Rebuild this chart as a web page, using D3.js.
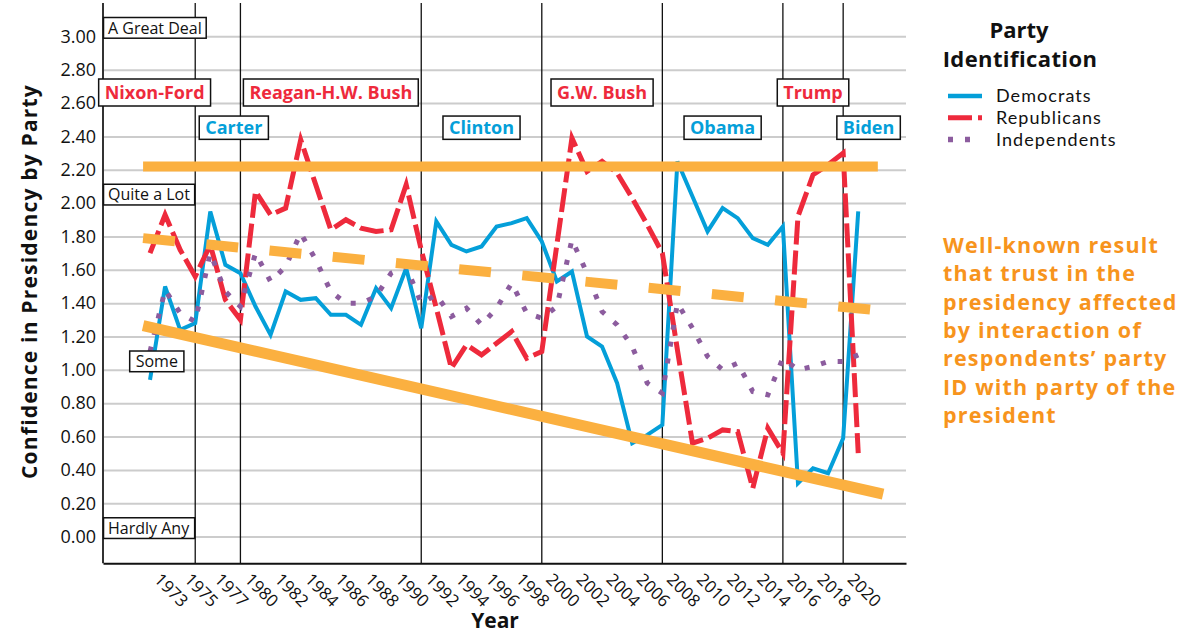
<!DOCTYPE html>
<html><head><meta charset="utf-8">
<script src="https://cdn.jsdelivr.net/npm/d3@7"></script>
<style>
body{margin:0;background:#fff}
svg{display:block}
text{font-family:"Open Sans",Lato,sans-serif}
</style>
</head><body>
<svg id="c" width="1179" height="633"></svg>
<script>
// ---------- DATA ----------
const years = [1973,1974,1975,1976,1977,1978,
  1980,1981,1982,1983,1984,1985,1986,1987,1988,1989,1990,1991,1992,1993,1994,1995,1996,1997,1998,1999,
  2000,2001,2002,2003,2004,2005,2006,2007,2008,2009,2010,2011,2012,2013,2014,2015,2016,2017,2018,2019,2020,2021];
const tickYears = [1973,1975,1977,1980,1982,1984,1986,1988,1990,1992,1994,1996,1998,2000,2002,2004,2006,2008,2010,2012,2014,2016,2018,2020];
const democrats = [0.94,1.50,1.24,1.28,1.95,1.63,1.58,1.38,1.21,1.47,1.42,1.43,1.33,1.33,1.27,1.49,1.37,1.61,
  1.25,1.89,1.75,1.71,1.74,1.86,1.88,1.91,1.77,1.53,1.59,1.20,1.14,0.92,0.56,0.61,0.67,2.25,2.04,1.83,1.97,1.91,
  1.79,1.75,1.86,0.32,0.41,0.38,0.59,1.95];
const republicans = [1.70,1.93,1.72,1.56,1.75,1.42,1.30,2.07,1.93,1.97,2.38,2.11,1.84,1.90,1.85,1.83,1.84,2.11,
  1.72,1.37,1.01,1.15,1.09,1.16,1.23,1.07,1.11,1.75,2.39,2.19,2.25,2.18,2.03,1.87,1.70,1.12,0.56,0.59,0.64,0.63,
  0.29,0.65,0.50,1.92,2.17,2.23,2.30,0.50];
const independents = [1.11,1.48,1.34,1.29,1.70,1.47,1.38,1.70,1.53,1.62,1.82,1.66,1.47,1.40,1.40,1.44,1.58,1.62,
  1.40,1.45,1.32,1.37,1.27,1.37,1.52,1.34,1.31,1.38,1.78,1.58,1.35,1.27,1.14,0.92,0.86,1.40,1.25,1.08,1.00,1.04,
  0.87,0.85,1.07,1.00,1.02,1.05,1.05,1.09];
const yTicks = [0,0.2,0.4,0.6,0.8,1.0,1.2,1.4,1.6,1.8,2.0,2.2,2.4,2.6,2.8,3.0];
const levelLabels = ["A Great Deal","Quite a Lot","Some","Hardly Any"];
const levelValues = [3,2,1,0];
const eraNames = ["Nixon-Ford","Carter","Reagan-H.W. Bush","Clinton","G.W. Bush","Obama","Trump","Biden"];
const eraParty = ["R","D","R","D","R","D","R","D"];
const eraBoundaries = [1976,1980,1992,2000,2008,2016,2020];
// annotation trend lines (slot index, value)
const trendTop = [[-0.46,2.22],[48.3,2.22]];
const trendMid = [[-0.46,1.79],[47.95,1.36]];
const trendLow = [[-0.46,1.265],[48.65,0.255]];
const seriesNames = ["Democrats","Republicans","Independents"];
const noteLines = ["Well-known result","that trust in the","presidency affected","by interaction of","respondents\u2019 party","ID with party of the","president"];

// ---------- LAYOUT ----------
const C = {blue:"#049fd9", red:"#ee2a3c", purple:"#8c5c9e", orange:"#fbb040", note:"#f7941d"};
const L = {left:103, right:906, top:3, bottom:563.3};
const svg = d3.select("#c");
svg.append("rect").attr("width",1179).attr("height",633).attr("fill","#fff");

const x = d3.scaleLinear().domain([-3.12,50.17]).range([L.left,L.right]);
const y = d3.scaleLinear().domain([-0.16,3.2]).range([L.bottom,L.top]);
const xi = yr => years.indexOf(yr);

// gridlines
const grid = svg.append("g").attr("transform",`translate(${L.left},0)`)
  .call(d3.axisLeft(y).tickValues(yTicks).tickSize(-(L.right-L.left)).tickFormat(""));
grid.select(".domain").remove();
grid.selectAll("line").attr("stroke","#cccccc").attr("stroke-width",2);

// y tick labels
const ya = svg.append("g").attr("transform",`translate(${L.left},0)`)
  .call(d3.axisLeft(y).tickValues(yTicks).tickSize(0).tickPadding(7).tickFormat(d3.format(".2f")));
ya.select(".domain").remove();
ya.selectAll("text").attr("font-size",18).attr("fill","#111").style("font-family","'Open Sans'");

// era lines
svg.append("g").selectAll("line").data(eraBoundaries).join("line")
  .attr("x1",d=>x(xi(d))).attr("x2",d=>x(xi(d)))
  .attr("y1",L.top).attr("y2",L.bottom)
  .attr("stroke","#111").attr("stroke-width",1.3);

// left axis line
svg.append("line").attr("x1",L.left).attr("x2",L.left).attr("y1",L.top).attr("y2",L.bottom)
  .attr("stroke","#333").attr("stroke-width",2);

// x axis
const xa = svg.append("g").attr("transform",`translate(0,${L.bottom})`)
  .call(d3.axisBottom(x).tickValues(tickYears.map(xi)).tickSize(0).tickFormat(i=>years[i]));
xa.select(".domain").attr("stroke","#111").attr("stroke-width",2);
xa.selectAll("text").attr("font-size",17).attr("fill","#111").style("font-family","'Open Sans'")
  .attr("y",0).attr("x",0).attr("dy","0.35em").attr("text-anchor","start")
  .attr("transform","translate(7,13) rotate(45)");

// data lines
const line = d3.line().x((d,i)=>x(i)).y(d=>y(d));
svg.append("path").datum(democrats).attr("d",line).attr("fill","none")
  .attr("stroke",C.blue).attr("stroke-width",4);
svg.append("path").datum(republicans).attr("d",line).attr("fill","none")
  .attr("stroke",C.red).attr("stroke-width",5).attr("stroke-dasharray","24,6");
svg.append("path").datum(independents).attr("d",line).attr("fill","none")
  .attr("stroke",C.purple).attr("stroke-width",5).attr("stroke-dasharray","5,12");

// orange trend lines
const tl = d3.line().x(d=>x(d[0])).y(d=>y(d[1]));
svg.append("path").datum(trendTop).attr("d",tl).attr("stroke",C.orange).attr("stroke-width",10).attr("fill","none");
svg.append("path").datum(trendMid).attr("d",tl).attr("stroke",C.orange).attr("stroke-width",10)
  .attr("stroke-dasharray","32,31.5").attr("fill","none");
svg.append("path").datum(trendLow).attr("d",tl).attr("stroke",C.orange).attr("stroke-width",11).attr("fill","none");

// boxed label helper
function boxLabel(g, txt, cx, cy, opts){
  const grp = g.append("g");
  const rect = grp.append("rect");
  const t = grp.append("text").text(txt)
    .attr("font-size",opts.size).attr("font-weight",opts.weight||400)
    .attr("fill",opts.color).attr("x",cx).attr("y",cy).attr("dy","0.36em")
    .attr("text-anchor",opts.anchor||"middle");
  if(opts.ls) t.attr("letter-spacing",opts.ls);
  const b = t.node().getBBox();
  const w = b.width + 2*opts.padX;
  const left = (opts.anchor==="start") ? cx - opts.padX : cx - w/2;
  rect.attr("x",left).attr("y",cy-opts.h/2).attr("width",w).attr("height",opts.h)
    .attr("fill","#fff").attr("stroke","#111").attr("stroke-width",1.5);
}

// confidence level boxes
const lg = svg.append("g");
const levelX = [L.left+5, L.left+5, null, L.left+5];
levelLabels.forEach((lab,i)=>{
  const cy = y(levelValues[i]) - 8.5;
  if(levelX[i]===null){
    boxLabel(lg, lab, x(0.45), cy, {size:16, color:"#111", padX:6, h:20.7});
  } else {
    boxLabel(lg, lab, levelX[i], cy, {size:16, color:"#111", padX:4.5, h:20.7, anchor:"start"});
  }
});

// era labels
const eg = svg.append("g");
const edges = [L.left, ...eraBoundaries.map(d=>x(xi(d))), L.right];
const eraShift = [5.5,16,0,0,0,0,0,-6];
eraNames.forEach((n,i)=>{
  const cx = (edges[i]+edges[i+1])/2 + eraShift[i];
  const isR = eraParty[i]==="R";
  boxLabel(eg, n, cx, isR?92.5:127.7, {size:18, weight:700, color:isR?C.red:C.blue, padX:6, h:isR?27:23.3});
});

// legend
const leg = svg.append("g");
leg.append("text").text("Party").attr("x",1019).attr("y",38.3).attr("text-anchor","middle")
  .attr("font-size",22).attr("font-weight",700).attr("fill","#111");
leg.append("text").text("Identification").attr("x",1020).attr("y",66.7).attr("text-anchor","middle")
  .attr("font-size",22).attr("font-weight",700).attr("fill","#111").attr("letter-spacing",0.4);
const legStyles = [
  {c:C.blue, w:4.5, d:null},
  {c:C.red, w:5, d:"24,6"},
  {c:C.purple, w:5.5, d:"5,12"}
];
seriesNames.forEach((s,i)=>{
  const yy = 96 + i*21.8;
  const l = leg.append("line").attr("x1",948).attr("x2",982).attr("y1",yy).attr("y2",yy)
    .attr("stroke",legStyles[i].c).attr("stroke-width",legStyles[i].w);
  if(legStyles[i].d) l.attr("stroke-dasharray",legStyles[i].d);
  leg.append("text").text(s).attr("x",996).attr("y",yy).attr("dy","0.36em")
    .style("font-family","Lato").attr("font-size",18).attr("letter-spacing",1.05).attr("fill","#111");
});

// note
svg.append("g").selectAll("text").data(noteLines).join("text")
  .text(d=>d).attr("x",943).attr("y",(d,i)=>253+i*28.33)
  .attr("font-size",21.5).attr("font-weight",700).attr("fill",C.note).attr("letter-spacing",1.2);

// axis titles
svg.append("text").text("Confidence in Presidency by Party")
  .attr("transform","translate(37,281.5) rotate(-90)").attr("text-anchor","middle")
  .attr("font-size",21).attr("font-weight",700).attr("fill","#111").attr("letter-spacing",1.2);
svg.append("text").text("Year").attr("x",495).attr("y",628).attr("text-anchor","middle")
  .attr("font-size",21).attr("font-weight",700).attr("fill","#111");
</script>
</body></html>
